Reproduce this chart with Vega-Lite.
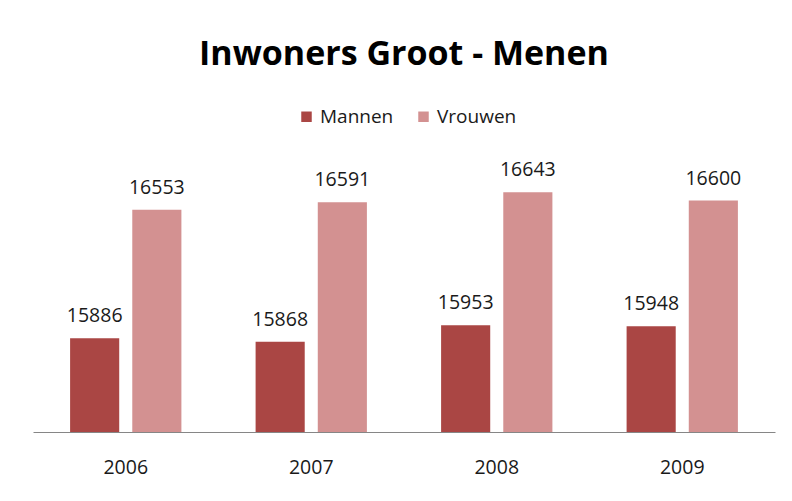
{
  "$schema": "https://vega.github.io/schema/vega-lite/v6.json",
  "width": 742,
  "height": 270,
  "autosize": {"type": "none"},
  "padding": {"left": 33, "top": 162, "right": 17, "bottom": 69},
  "background": "white",
  "title": {
    "text": "Inwoners Groot - Menen",
    "font": "Open Sans",
    "fontSize": 34,
    "fontWeight": "bold",
    "color": "#000000",
    "anchor": "middle",
    "offset": 35
  },
  "data": {
    "values": [
      {"jaar": "2006", "geslacht": "Mannen", "inwoners": 15886},
      {"jaar": "2006", "geslacht": "Vrouwen", "inwoners": 16553},
      {"jaar": "2007", "geslacht": "Mannen", "inwoners": 15868},
      {"jaar": "2007", "geslacht": "Vrouwen", "inwoners": 16591},
      {"jaar": "2008", "geslacht": "Mannen", "inwoners": 15953},
      {"jaar": "2008", "geslacht": "Vrouwen", "inwoners": 16643},
      {"jaar": "2009", "geslacht": "Mannen", "inwoners": 15948},
      {"jaar": "2009", "geslacht": "Vrouwen", "inwoners": 16600}
    ]
  },
  "encoding": {
    "x": {
      "field": "jaar",
      "type": "nominal",
      "scale": {"paddingInner": 0.4, "paddingOuter": 0.2},
      "axis": {
        "title": null,
        "labelAngle": 0,
        "ticks": false,
        "grid": false,
        "domainColor": "#868686",
        "domainWidth": 1,
        "labelFont": "Open Sans",
        "labelFontSize": 19.5,
        "labelColor": "#1a1a1a",
        "labelPadding": 26
      }
    },
    "xOffset": {
      "field": "geslacht",
      "type": "nominal",
      "sort": ["Mannen", "Vrouwen"],
      "scale": {"paddingInner": 0.21, "paddingOuter": 0}
    },
    "y": {
      "field": "inwoners",
      "type": "quantitative",
      "scale": {"domain": [15400, 16800], "zero": false, "nice": false},
      "axis": null
    }
  },
  "layer": [
    {
      "mark": {"type": "bar", "clip": true},
      "encoding": {
        "color": {
          "field": "geslacht",
          "type": "nominal",
          "scale": {"domain": ["Mannen", "Vrouwen"], "range": ["#AA4644", "#D39191"]},
          "legend": {
            "title": null,
            "orient": "none",
            "direction": "horizontal",
            "legendX": 264,
            "legendY": -55,
            "labelFont": "Open Sans",
            "labelFontSize": 19,
            "labelColor": "#1a1a1a",
            "symbolType": "square",
            "symbolSize": 110,
            "symbolStrokeWidth": 0,
            "columnPadding": 20,
            "labelOffset": 4
          }
        }
      }
    },
    {
      "mark": {
        "type": "text",
        "baseline": "alphabetic",
        "dy": -16,
        "font": "Open Sans",
        "fontSize": 19.5,
        "color": "#1a1a1a"
      },
      "encoding": {
        "text": {"field": "inwoners", "type": "quantitative", "format": "d"}
      }
    }
  ],
  "config": {"view": {"stroke": null}}
}
